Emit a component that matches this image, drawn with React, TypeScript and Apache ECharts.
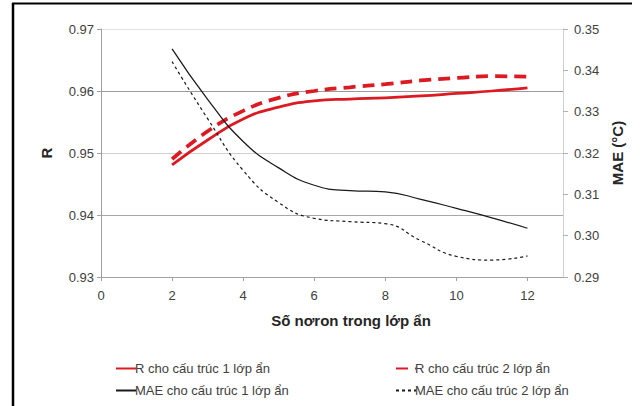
import React, { useEffect, useRef } from "react";
import * as echarts from "echarts";

const neurons = [2, 3, 4, 5, 6, 7, 8, 9, 10, 11, 12];
const r1Layer = [0.9481, 0.9521, 0.9555, 0.9574, 0.9584, 0.9587, 0.9589, 0.9592, 0.9596, 0.96, 0.9605];
const r2Layer = [0.949, 0.9535, 0.9568, 0.9589, 0.96, 0.9606, 0.9611, 0.9617, 0.9621, 0.9624, 0.9623];
const mae1Layer = [0.3452, 0.333, 0.3228, 0.3164, 0.3122, 0.3109, 0.3106, 0.3088, 0.3066, 0.3043, 0.3018];
const mae2Layer = [0.3421, 0.3283, 0.3158, 0.308, 0.3042, 0.3034, 0.3029, 0.2988, 0.295, 0.2941, 0.2951];

const seriesNames = [
  "R cho cấu trúc 1 lớp ẩn",
  "R cho cấu trúc 2 lớp ẩn",
  "MAE cho cấu trúc 1 lớp ẩn",
  "MAE cho cấu trúc 2 lớp ẩn",
];

const RED = "#dc1a22";
const FONT = "'Liberation Sans', Arial, sans-serif";

const pairs = (ys: number[]) => neurons.map((x, i) => [x, ys[i]]);

export default function App() {
  const ref = useRef<HTMLDivElement>(null);
  useEffect(() => {
    if (!ref.current) return;
    const chart = echarts.init(ref.current, undefined, { renderer: "svg" });
    const labelStyle = { color: "#404040", fontSize: 13, fontFamily: FONT };
    const nameStyle = { fontSize: 15, fontWeight: "bold", color: "#262626", fontFamily: FONT };
    const legendBase = {
      orient: "vertical",
      top: 357,
      itemWidth: 20,
      itemHeight: 14,
      itemGap: 9,
      itemStyle: { opacity: 0 },
      textStyle: { ...labelStyle, padding: [0, 0, 0, -6] },
    };
    chart.setOption({
      animation: false,
      backgroundColor: "#ffffff",
      textStyle: { fontFamily: FONT },
      grid: { left: 101, right: 77, top: 29, bottom: 129, containLabel: false },
      legend: [
        { ...legendBase, left: 110, data: [seriesNames[0], seriesNames[2]] },
        { ...legendBase, left: 390, data: [seriesNames[1], seriesNames[3]] },
      ],
      xAxis: {
        type: "value",
        min: 0,
        max: 13,
        interval: 2,
        name: "Số nơron trong lớp ẩn",
        nameLocation: "middle",
        nameGap: 36,
        nameTextStyle: { ...nameStyle, padding: [0, 0, 0, 38] },
        axisLine: { show: true, lineStyle: { color: "#a0a0a0", width: 1 } },
        axisTick: { show: true, length: 4, lineStyle: { color: "#a0a0a0" } },
        axisLabel: { ...labelStyle, margin: 12, showMaxLabel: false },
        splitLine: { show: false },
      },
      yAxis: [
        {
          type: "value",
          min: 0.93,
          max: 0.97,
          interval: 0.01,
          name: "R",
          nameLocation: "middle",
          nameRotate: 90,
          nameGap: 47,
          nameTextStyle: nameStyle,
          axisLine: { show: true, lineStyle: { color: "#a0a0a0" } },
          axisTick: { show: true, length: 4, lineStyle: { color: "#a0a0a0" } },
          axisLabel: { ...labelStyle, margin: 7, formatter: (v: number) => v.toFixed(2) },
          splitLine: {
            show: true,
            lineStyle: { color: ["#c8c8c8", "#a8a8a8", "#d0d0d0", "#9a9a9a", "#e2e2e2"], width: 1 },
          },
        },
        {
          type: "value",
          min: 0.29,
          max: 0.35,
          interval: 0.01,
          position: "right",
          name: "MAE (°C)",
          nameLocation: "middle",
          nameRotate: 90,
          nameGap: 47,
          nameTextStyle: nameStyle,
          axisLine: { show: true, lineStyle: { color: "#d0d0d0" } },
          axisTick: { show: true, length: 5, lineStyle: { color: "#b0b0b0" } },
          axisLabel: { ...labelStyle, margin: 11, formatter: (v: number) => v.toFixed(2) },
          splitLine: { show: false },
        },
      ],
      series: [
        {
          name: seriesNames[0],
          type: "line",
          yAxisIndex: 0,
          data: pairs(r1Layer),
          smooth: 0.5,
          symbol: "none",
          lineStyle: { color: RED, width: 2.75 },
          itemStyle: { color: RED },
        },
        {
          name: seriesNames[1],
          type: "line",
          yAxisIndex: 0,
          data: pairs(r2Layer),
          smooth: 0.5,
          symbol: "none",
          lineStyle: { color: RED, width: 3.75, type: [12, 7] },
          itemStyle: { color: RED },
        },
        {
          name: seriesNames[2],
          type: "line",
          yAxisIndex: 1,
          data: pairs(mae1Layer),
          smooth: 0.5,
          symbol: "none",
          lineStyle: { color: "#1a1a1a", width: 1.25 },
          itemStyle: { color: "#1a1a1a" },
        },
        {
          name: seriesNames[3],
          type: "line",
          yAxisIndex: 1,
          data: pairs(mae2Layer),
          smooth: 0.5,
          symbol: "none",
          lineStyle: { color: "#1a1a1a", width: 1.2, type: [3, 3] },
          itemStyle: { color: "#1a1a1a" },
        },
      ],
      graphic: [
        { type: "line", shape: { x1: 13, y1: 3, x2: 13, y2: 406 }, style: { stroke: "#000", lineWidth: 2.5 } },
        { type: "line", shape: { x1: 12, y1: 3.5, x2: 632, y2: 3.5 }, style: { stroke: "#000", lineWidth: 2 } },
      ],
    });
    return () => chart.dispose();
  }, []);
  return (
    <div
      ref={ref}
      style={{ position: "fixed", left: 0, top: 0, width: 640, height: 406, background: "#fff" }}
    />
  );
}
